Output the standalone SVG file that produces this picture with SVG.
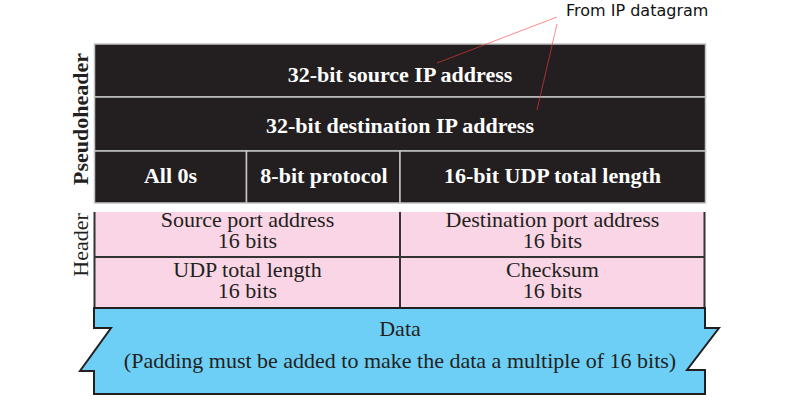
<svg xmlns="http://www.w3.org/2000/svg" width="803" height="413" viewBox="0 0 803 413">
<style>
.blk{fill:#231f20;stroke:#c4c4c4;stroke-width:1.5}
.wt{font-family:"Liberation Serif","Times New Roman",serif;font-weight:bold;font-size:22px;fill:#ffffff;text-anchor:middle}
.dt{font-family:"Liberation Serif","Times New Roman",serif;font-size:22px;fill:#231f20;text-anchor:middle}
.pk{fill:#f9d5e5;stroke:none}
.ln{stroke:#333333;stroke-width:2;fill:none}
.lead{stroke:#ff3a3a;stroke-opacity:0.6;stroke-width:1;fill:none}
</style>
<rect width="803" height="413" fill="#ffffff"/>
<g id="pseudoheader">
  <g id="src-ip"><rect class="blk" x="94.5" y="44" width="611" height="53"/><text class="wt" x="400" y="82">32-bit source IP address</text></g>
  <g id="dst-ip"><rect class="blk" x="94.5" y="97" width="611" height="54"/><text class="wt" x="400" y="133">32-bit destination IP address</text></g>
  <g id="zeros"><rect class="blk" x="94.5" y="151" width="152" height="52"/><text class="wt" x="170.5" y="183">All 0s</text></g>
  <g id="protocol"><rect class="blk" x="246.5" y="151" width="153.5" height="52"/><text class="wt" x="324" y="183">8-bit protocol</text></g>
  <g id="udp-len-ph"><rect class="blk" x="400" y="151" width="305.5" height="52"/><text class="wt" x="552.5" y="183">16-bit UDP total length</text></g>
  <text id="pseudoheader-label" class="wt" style="fill:#231f20" transform="translate(88,119) rotate(-90)">Pseudoheader</text>
</g>
<g id="header">
  <rect class="pk" x="94" y="212" width="611" height="96"/>
  <g id="src-port"><text class="dt" x="247.5" y="227">Source port address</text><text class="dt" x="247.5" y="248">16 bits</text></g>
  <g id="dst-port"><text class="dt" x="552.5" y="227">Destination port address</text><text class="dt" x="552.5" y="248">16 bits</text></g>
  <g id="udp-len"><text class="dt" x="247.5" y="277">UDP total length</text><text class="dt" x="247.5" y="298">16 bits</text></g>
  <g id="checksum"><text class="dt" x="552.5" y="277">Checksum</text><text class="dt" x="552.5" y="298">16 bits</text></g>
  <path class="ln" d="M94.5 212V308M704.5 212V308M94 257H705M400 212V308"/>
  <text id="header-label" class="dt" transform="translate(88,245) rotate(-90)">Header</text>
</g>
<g id="data">
  <path d="M94 308H705V328H719L687 370H705V394H94V371H80L111 328H94Z" fill="#6dcff6" stroke="#231f20" stroke-width="2"/>
  <text class="dt" x="400" y="336">Data</text>
  <text class="dt" x="400" y="368">(Padding must be added to make the data a multiple of 16 bits)</text>
</g>
<g id="from-ip">
  <text x="566" y="16" style="font-family:'DejaVu Sans',Verdana,sans-serif;font-size:16px;fill:#111111">From IP datagram</text>
</g>
<g id="connectors">
  <line class="lead" x1="557" y1="17" x2="437" y2="63"/>
  <line class="lead" x1="557" y1="24" x2="537" y2="110"/>
</g>
</svg>
